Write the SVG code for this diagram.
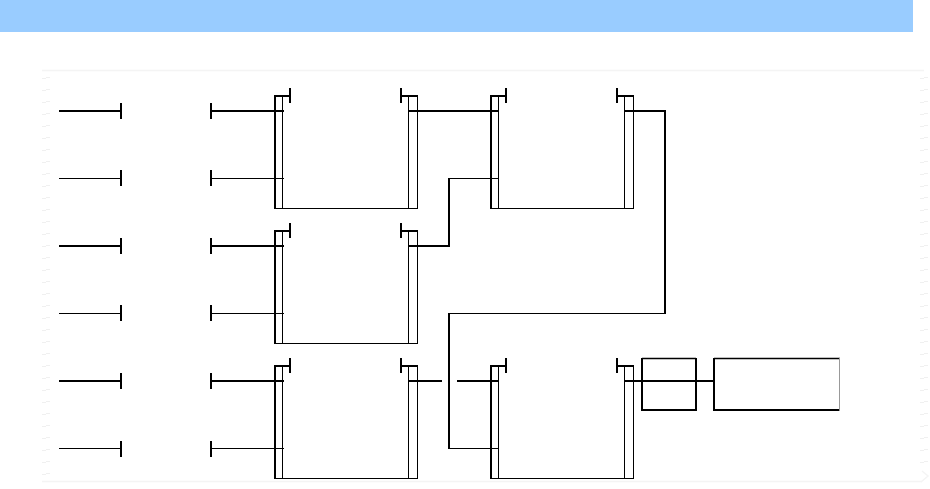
<svg xmlns="http://www.w3.org/2000/svg" width="930" height="489" viewBox="0 0 930 489">
<style>
.n{fill:none;stroke:#000}
.thick{stroke-width:2}
.thin{stroke-width:1}
.mid{stroke-width:1.500}
.grey{fill:none;stroke:#999;stroke-width:1}
.faint{fill:none;stroke:#f4f4f4;stroke-width:1.500}
.dash{fill:none;stroke:#f0f0f0;stroke-width:1}
</style>
<defs>
<g id="fb">
<path class="n thick" d="M275 209V96H290M290 88V103M401 88V103M401 96H418"/>
<path class="n thin" d="M282.500 96V208M275 208.500H418M408.500 96V208M417.500 96V208"/>
</g>
</defs>
<rect width="930" height="489" fill="#fff"/>
<rect id="header" width="913" height="32" fill="#99ccff"/>
<g id="frame">
<path class="faint" d="M42 70.500H924M42 481.500H922"/>
<path class="dash" d="M42 78.500H46M46 77.500H50M42 90.500H46M46 89.500H50M42 102.500H46M46 101.500H50M42 114.500H46M46 113.500H50M42 126.500H46M46 125.500H50M42 138.500H46M46 137.500H50M42 150.500H46M46 149.500H50M42 162.500H46M46 161.500H50M42 174.500H46M46 173.500H50M42 186.500H46M46 185.500H50M42 198.500H46M46 197.500H50M42 210.500H46M46 209.500H50M42 222.500H46M46 221.500H50M42 234.500H46M46 233.500H50M42 246.500H46M46 245.500H50M42 258.500H46M46 257.500H50M42 270.500H46M46 269.500H50M42 282.500H46M46 281.500H50M42 294.500H46M46 293.500H50M42 306.500H46M46 305.500H50M42 318.500H46M46 317.500H50M42 330.500H46M46 329.500H50M42 342.500H46M46 341.500H50M42 354.500H46M46 353.500H50M42 366.500H46M46 365.500H50M42 378.500H46M46 377.500H50M42 390.500H46M46 389.500H50M42 402.500H46M46 401.500H50M42 414.500H46M46 413.500H50M42 426.500H46M46 425.500H50M42 438.500H46M46 437.500H50M42 450.500H46M46 449.500H50M42 462.500H46M46 461.500H50M42 474.500H46M46 473.500H50"/>
<path class="dash" d="M920 78.500H924M924 77.500H928M920 90.500H924M924 89.500H928M920 102.500H924M924 101.500H928M920 114.500H924M924 113.500H928M920 126.500H924M924 125.500H928M920 138.500H924M924 137.500H928M920 150.500H924M924 149.500H928M920 162.500H924M924 161.500H928M920 174.500H924M924 173.500H928M920 186.500H924M924 185.500H928M920 198.500H924M924 197.500H928M920 210.500H924M924 209.500H928M920 222.500H924M924 221.500H928M920 234.500H924M924 233.500H928M920 246.500H924M924 245.500H928M920 258.500H924M924 257.500H928M920 270.500H924M924 269.500H928M920 282.500H924M924 281.500H928M920 294.500H924M924 293.500H928M920 306.500H924M924 305.500H928M920 318.500H924M924 317.500H928M920 330.500H924M924 329.500H928M920 342.500H924M924 341.500H928M920 354.500H924M924 353.500H928M920 366.500H924M924 365.500H928M920 378.500H924M924 377.500H928M920 390.500H924M924 389.500H928M920 402.500H924M924 401.500H928M920 414.500H924M924 413.500H928M920 426.500H924M924 425.500H928M920 438.500H924M924 437.500H928M920 450.500H924M924 449.500H928M920 462.500H924M924 461.500H928"/>
<path class="faint" d="M922 471L928 476L921 482"/>
</g>
<g id="connectors">
<path class="n thick" d="M59 111H121M121 103V119M211 103V119M211 111H284"/>
<path class="n thin" d="M59 178.500H121M211 178.500H284"/>
<path class="n thick" d="M121 170V186M211 170V186"/>
<path class="n thick" d="M59 246H121M121 238V254M211 238V254M211 246H284"/>
<path class="n thin" d="M59 313.500H121M211 313.500H284"/>
<path class="n thick" d="M121 305V321M211 305V321"/>
<path class="n thick" d="M59 381H121M121 373V389M211 373V389M211 381H284"/>
<path class="n thin" d="M59 448.500H121M211 448.500H284"/>
<path class="n thick" d="M121 441V457M211 441V457"/>
<path class="n thick" d="M408 111H498"/>
<path class="n thick" d="M408 246H449V178"/>
<path class="n thin" d="M449 178.500H498"/>
<path class="n thick" d="M624 111H665V314"/>
<path class="n thin" d="M665 313.500H449"/>
<path class="n thick" d="M449 313V449"/>
<path class="n thin" d="M449 448.500H498"/>
<path class="n thick" d="M408 381H442M457 381H498"/>
<path class="n thick" d="M624 381H714"/>
</g>
<g id="block1"><use href="#fb"/></g>
<g id="block2"><use href="#fb" transform="translate(216 0)"/></g>
<g id="block3"><use href="#fb" transform="translate(0 135)"/></g>
<g id="block4"><use href="#fb" transform="translate(0 270)"/></g>
<g id="block5"><use href="#fb" transform="translate(216 270)"/></g>
<g id="box1"><path class="n thick" d="M642 358V411M696 358V411M641 410H697"/><path class="n mid" d="M642 358.500H696"/></g>
<g id="box2"><path class="n thick" d="M714 358V411M713 410H840"/><path class="n mid" d="M714 358.500H840"/><path class="grey" d="M839.500 358V411"/></g>
</svg>
